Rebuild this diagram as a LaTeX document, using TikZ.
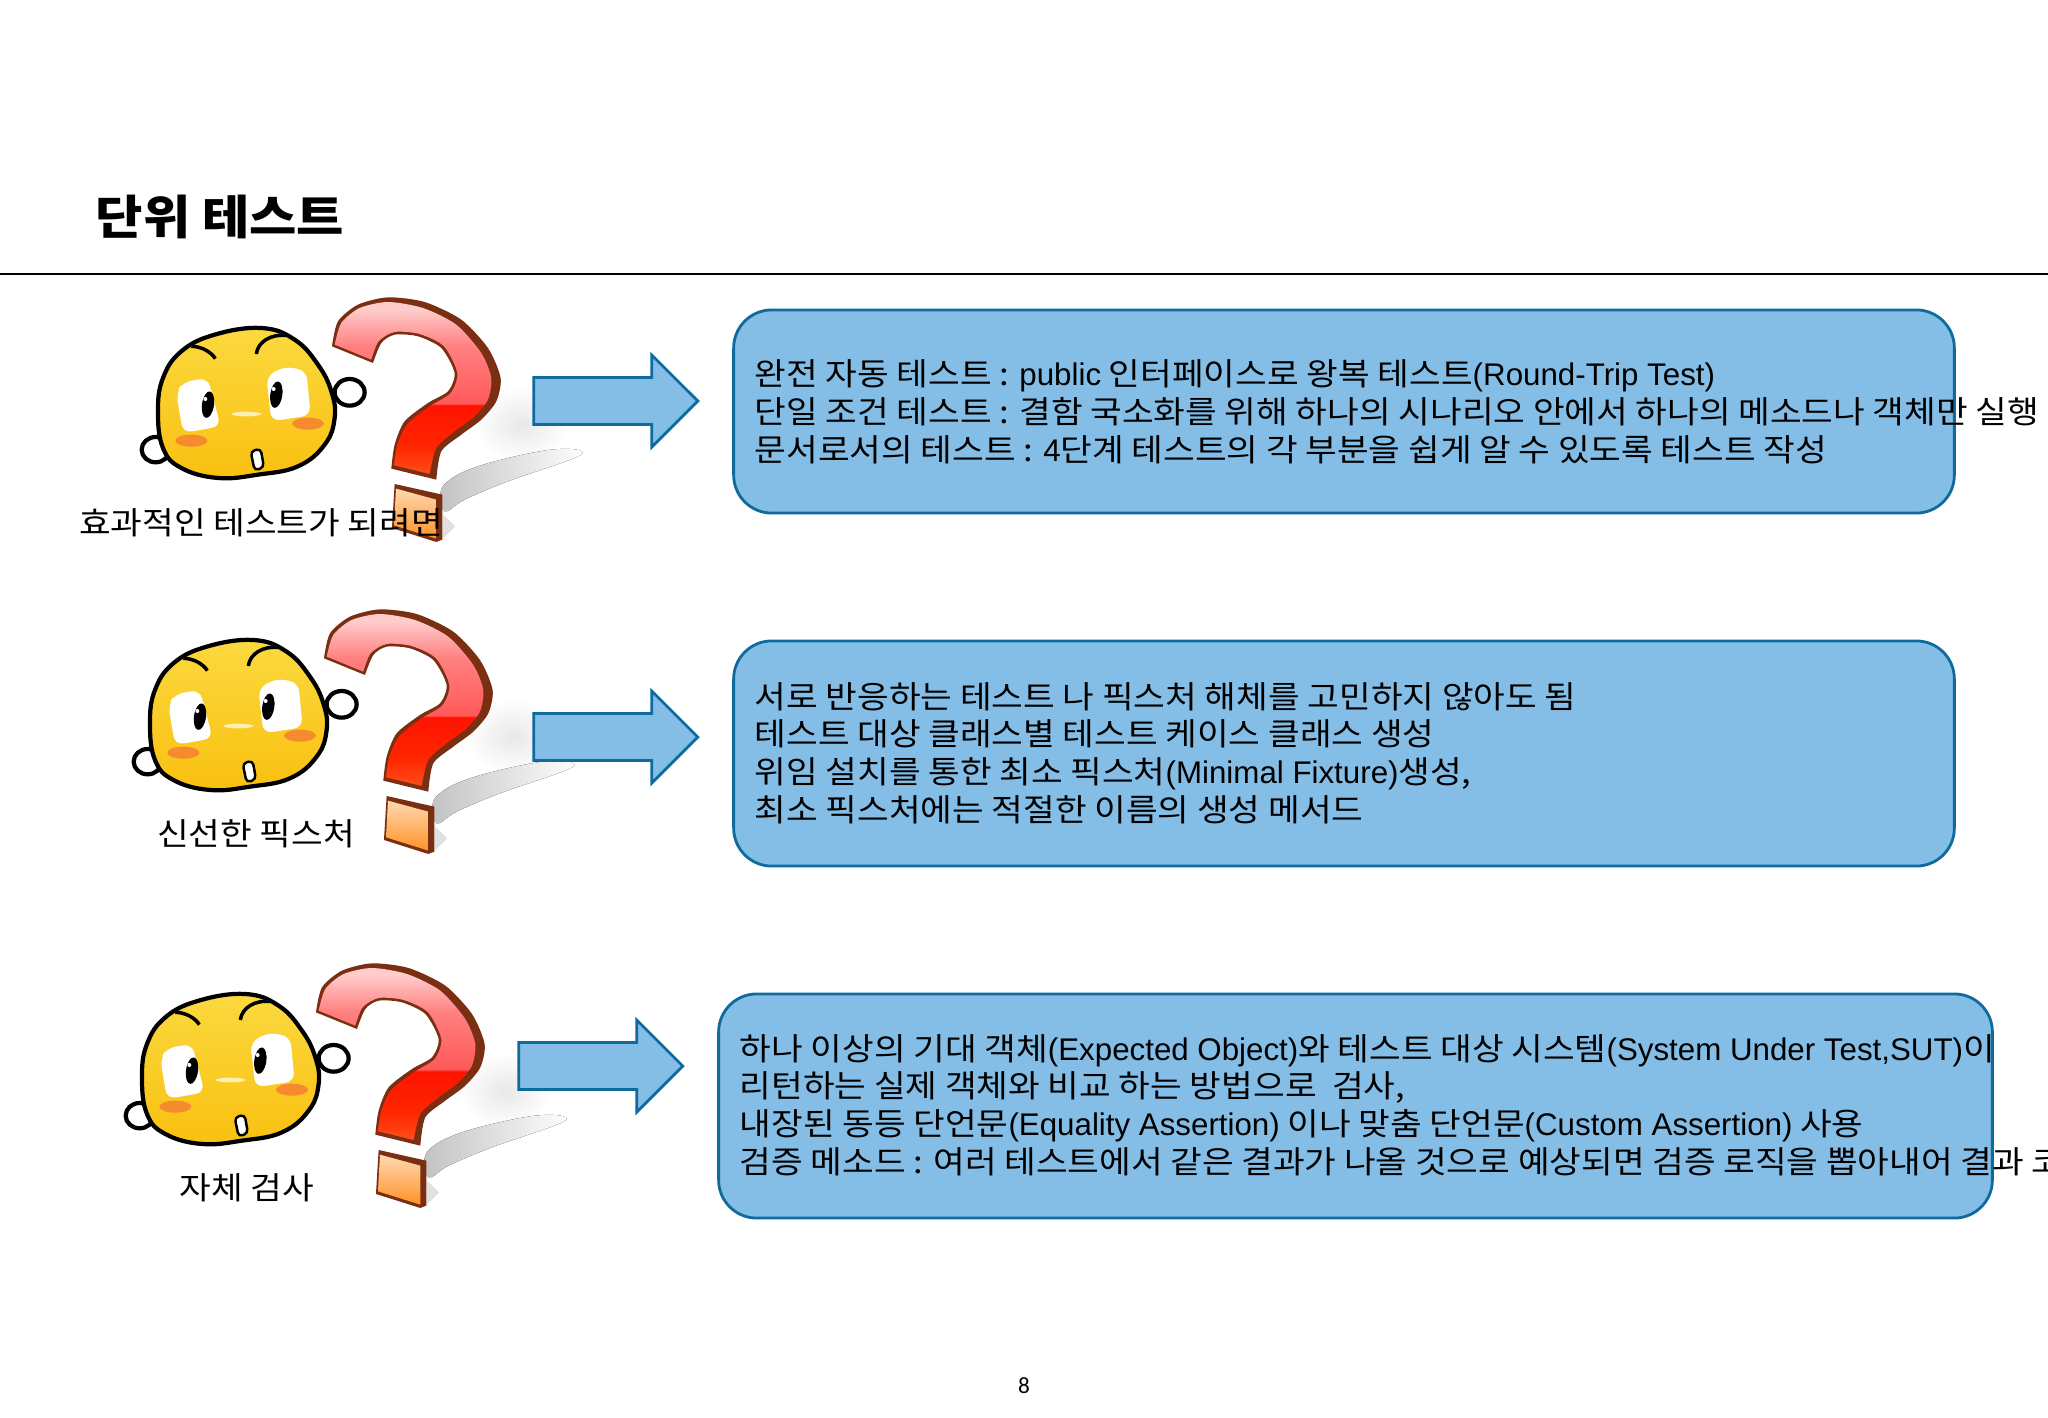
\documentclass[tikz,border=0pt]{standalone}
\usepackage{fontspec}
\usetikzlibrary{shapes.arrows}
\setmainfont{Noto Sans CJK KR}[FakeStretch=1.10]
\newfontfamily\lat{Liberation Sans}
\newfontfamily\pagefont{Carlito}
\definecolor{boxfill}{HTML}{84BEE6}
\definecolor{boxline}{HTML}{0F6A9E}
\definecolor{facetop}{HTML}{FBD93F}
\definecolor{facebot}{HTML}{F9C010}
\definecolor{markedge}{HTML}{7A2E12}
\definecolor{blushfill}{HTML}{F58A2E}
\pgfdeclareverticalshading{markfill}{100bp}{color(0bp)=(red!55!orange!90!white); color(25bp)=(red!55!orange!90!white); color(33bp)=(red!70!orange); color(45bp)=(red!85!orange); color(45.5bp)=(red!65!white); color(62bp)=(red!50!white); color(73bp)=(red!20!white); color(100bp)=(red!20!white)}
\tikzset{
	textbox/.style={draw=boxline,fill=boxfill,line width=0.8pt,rounded corners=0.38cm,minimum width=12.2cm,inner sep=0pt},
	bodytext/.style={anchor=west,align=left,inner sep=0pt,font=\fontsize{8.9}{10.73}\selectfont},
	sidelabel/.style={inner sep=0pt,font=\fontsize{8.9}{10.73}\selectfont},
	blockarrow/.style={draw=boxline,fill=boxfill,line width=0.8pt,single arrow,inner sep=0pt,minimum height=1.64cm,single arrow head extend=0.225cm},
	mascot/.pic={
		% shadow of the question mark
		\shade[inner color=black!9,outer color=white] (1240,440) ellipse [x radius=140,y radius=115];
		\fill[left color=black!24,right color=white] plot[smooth cycle,tension=0.6] coordinates {(1005,625) (1110,565) (1330,515) (1420,530) (1200,610) (1070,665) (1010,700)};
		\fill[black!12] (1005,710) -- (1042,745) -- (1005,782) -- cycle;
		% ears
		\draw[line width=1.2pt,fill=white] (725,343) ellipse [x radius=45,y radius=40];
		\draw[line width=1.2pt,fill=white] (143,515) ellipse [x radius=42,y radius=38];
		% face
		\draw[line width=1.2pt,top color=facetop,bottom color=facebot] plot[smooth cycle,tension=0.7] coordinates {(460,150) (560,185) (630,260) (670,340) (680,420) (650,500) (570,565) (450,590) (330,600) (220,570) (165,510) (150,400) (165,300) (220,220) (320,170)};
		\draw[line width=1pt] (250,205) .. controls (280,205) and (310,222) .. (322,242);
		\draw[line width=1pt] (445,228) .. controls (450,190) and (490,168) .. (535,172);
		% eyes
		\fill[white,rounded corners=2.5pt] (205,345) -- (225,312) -- (300,300) -- (338,445) -- (225,465) -- cycle;
		\fill[white,rounded corners=2.5pt] (475,295) -- (530,265) -- (595,278) -- (608,412) -- (490,430) -- cycle;
		\fill[black,rotate around={-8:(300,380)}] (300,380) ellipse [x radius=18,y radius=40];
		\fill[black,rotate around={-8:(505,350)}] (505,350) ellipse [x radius=18,y radius=40];
		\fill[white] (292,363) circle (6);
		\fill[white] (497,333) circle (6);
		% cheeks, nose, mouth
		\fill[blushfill] (250,488) ellipse [x radius=48,y radius=18];
		\fill[blushfill] (600,437) ellipse [x radius=48,y radius=18];
		\fill[facetop!40!white] (415,408) ellipse [x radius=45,y radius=7];
		\draw[line width=0.7pt,fill=white,rounded corners=1.2pt] (428,520) -- (458,512) -- (468,568) -- (440,578) -- cycle;
		% question mark
		\fill[markedge] plot[smooth,tension=0.45] coordinates {(672,205) (690,130) (750,80) (840,58) (950,72) (1060,125) (1140,210) (1178,300) (1165,370) (1120,425) (1060,470) (1000,520) (985,605)} -- (850,572) -- plot[smooth,tension=0.45] coordinates {(850,572) (860,500) (890,430) (960,375) (1020,340) (1040,285) (1000,210) (930,175) (860,170) (820,195) (795,255)} -- cycle;
		\path[shading=markfill] plot[smooth,tension=0.45] coordinates {(680,200) (700,135) (755,90) (840,72) (945,90) (1045,140) (1120,225) (1150,300) (1140,365) (1100,415) (1040,460) (985,510) (965,588)} -- (858,562) -- plot[smooth,tension=0.45] coordinates {(858,562) (868,500) (898,438) (965,385) (1028,345) (1048,285) (1008,205) (935,168) (860,162) (812,190) (790,245)} -- cycle;
		% dot of the question mark
		\fill[markedge] (860,618) -- (1003,650) -- (1003,785) -- (985,792) -- (852,750) -- cycle;
		\path[top color=orange!30!white,bottom color=orange!85!white] (864,632) -- (985,665) -- (985,782) -- (858,742) -- cycle;
	}
}
\begin{document}
\begin{tikzpicture}[x=0.01cm,y=-0.01cm]
	\useasboundingbox (0,0) rectangle (2048,1418);
	\clip (0,0) rectangle (2048,1418);
	% title
	\node[anchor=west,inner sep=0pt,font=\fontsize{13.3}{16}\selectfont\bfseries] (title) at (95,217) {단위 테스트};
	\draw[line width=0.6pt] (0,274) -- (2048,274);
	% question marks
	\pic[scale=0.3333] at (108,278) {mascot};
	\pic[scale=0.3333] at (100,590) {mascot};
	\pic[scale=0.3333] at (92,944) {mascot};
	% arrows
	\node[blockarrow] (arrowa) at (604,401) {\rule{0pt}{0.44cm}};
	\node[blockarrow] (arrowb) at (604,737) {\rule{0pt}{0.44cm}};
	\node[blockarrow] (arrowc) at (589,1066) {\rule{0pt}{0.44cm}};
	% boxes
	\node[textbox,minimum height=2.03cm] (boxa) at (1344,411.5) {};
	\node[textbox,minimum height=2.25cm] (boxb) at (1344,753.5) {};
	\node[textbox,minimum width=12.73cm,minimum height=2.24cm] (boxc) at (1355.5,1106) {};
	% text
	\node[bodytext] (texta) at (754,412) {완전 자동 테스트 : {\lat public} 인터페이스로 왕복 테스트{\lat (Round-Trip Test)}\\
		단일 조건 테스트 : 결함 국소화를 위해 하나의 시나리오 안에서 하나의 메소드나 객체만 실행\\
		문서로서의 테스트 : {\lat 4}단계 테스트의 각 부분을 쉽게 알 수 있도록 테스트 작성};
	\node[bodytext] (textb) at (754,753) {서로 반응하는 테스트 나 픽스처 해체를 고민하지 않아도 됨\\
		테스트 대상 클래스별 테스트 케이스 클래스 생성\\
		위임 설치를 통한 최소 픽스처{\lat (Minimal Fixture)}생성,\\
		최소 픽스처에는 적절한 이름의 생성 메서드};
	\node[bodytext] (textc) at (739,1105) {하나 이상의 기대 객체{\lat (Expected Object)}와 테스트 대상 시스템{\lat (System Under Test,SUT)}이\\
		리턴하는 실제 객체와 비교 하는 방법으로 \ 검사,\\
		내장된 동등 단언문{\lat (Equality Assertion)} 이나 맞춤 단언문{\lat (Custom Assertion)} 사용\\
		검증 메소드 : 여러 테스트에서 같은 결과가 나올 것으로 예상되면 검증 로직을 뽑아내어 결과 코};
	% labels
	\node[sidelabel] (labela) at (261,523) {효과적인 테스트가 되려면};
	\node[sidelabel] (labelb) at (256,834) {신선한 픽스처};
	\node[sidelabel] (labelc) at (247,1188) {자체 검사};
	\node[inner sep=0pt,font=\pagefont\fontsize{6.6}{8}\selectfont] (pagenum) at (1024,1386) {8};
\end{tikzpicture}
\end{document}
